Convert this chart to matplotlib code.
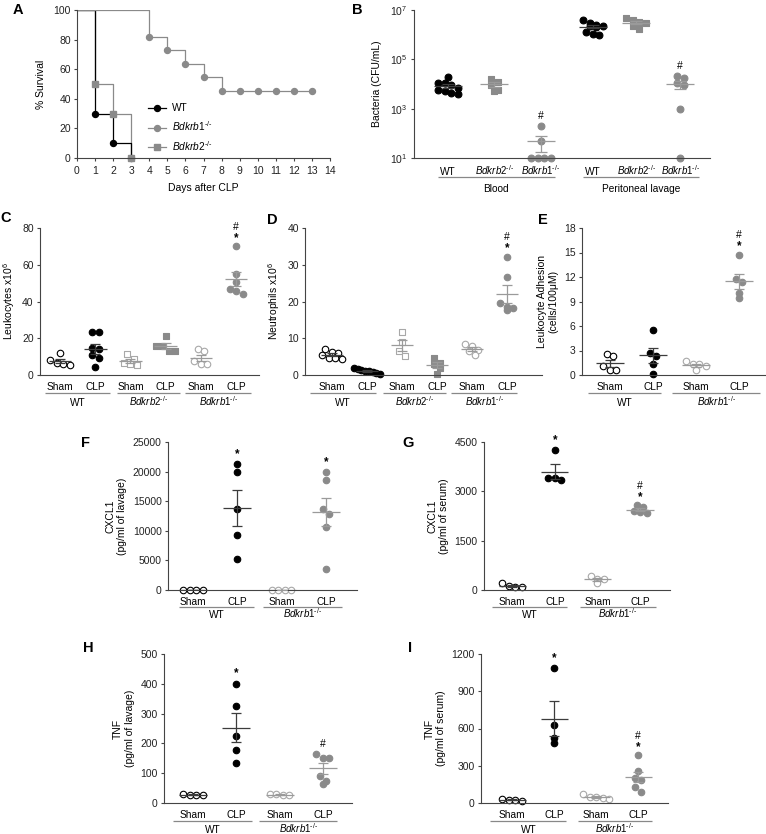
import numpy as np
import matplotlib
matplotlib.use('Agg')
import matplotlib.pyplot as plt
from matplotlib import transforms
from matplotlib.lines import Line2D

plt.rcParams['font.family'] = ['Liberation Sans', 'DejaVu Sans']
plt.rcParams['font.size'] = 7.5
plt.rcParams['mathtext.fontset'] = 'custom'
plt.rcParams['mathtext.rm'] = 'Liberation Sans'
plt.rcParams['mathtext.it'] = 'Liberation Sans:italic'
plt.rcParams['axes.linewidth'] = 0.8
plt.rcParams['axes.edgecolor'] = '#444444'
plt.rcParams['xtick.color'] = '#444444'
plt.rcParams['ytick.color'] = '#444444'
plt.rcParams['xtick.labelcolor'] = '#222222'
plt.rcParams['ytick.labelcolor'] = '#222222'
plt.rcParams['xtick.major.size'] = 2.5
plt.rcParams['ytick.major.size'] = 2.5
plt.rcParams['xtick.major.width'] = 0.8
plt.rcParams['ytick.major.width'] = 0.8
plt.rcParams['ytick.major.pad'] = 2

B1 = r'$\mathit{Bdkrb1}^{\text{-/-}}$'
B2 = r'$\mathit{Bdkrb2}^{\text{-/-}}$'
GENO_FS = 7.0

# ---- A: survival
days_wt = [0, 1, 2, 3]
surv_wt = [100, 30, 10, 0]
days_b2 = [0, 1, 2, 3]
surv_b2 = [100, 50, 30, 0]
days_b1 = [0, 4, 5, 6, 7, 8, 13]
surv_b1 = [100, 81.8, 72.7, 63.6, 54.5, 45.5, 45.5]
censor_b1 = [9, 10, 11, 12, 13]

# ---- B: bacteria (CFU/mL)
blood_wt = [19000, 11200, 11000, 9000, 7000, 5600, 5000, 4500, 4000]
blood_b2 = [16000, 12500, 9300, 5900, 5000]
blood_b1 = [200, 50, 10, 10, 10, 10]
lav_wt = [3.8e6, 2.9e6, 2.5e6, 2.3e6, 2.2e6, 2.0e6, 1.3e6, 1.1e6, 1.0e6]
lav_b2 = [4.8e6, 3.8e6, 3.2e6, 2.9e6, 2.2e6, 1.7e6]
lav_b1 = [22000, 17000, 11000, 9400, 1000, 10]

# ---- C: leukocytes x10^6
c_wt_sham = [12, 8, 6.5, 6, 5.5]
c_wt_clp = [23.5, 23.5, 14.5, 14, 11, 9, 4.5]
c_b2_sham = [11.6, 8.9, 6.5, 6.2, 5.3]
c_b2_clp = [21, 15.8, 15.8, 13.1, 13.1]
c_b1_sham = [14, 13, 7.6, 6.2, 5.8]
c_b1_clp = [70, 55, 50.6, 47, 44.3, 45.7]

# ---- D: neutrophils x10^6
d_wt_sham = [7.2, 6.3, 6.0, 5.5, 4.6, 4.5, 4.4]
d_wt_clp = [1.8, 1.5, 1.3, 1.1, 1.0, 0.8, 0.6, 0.4]
d_b2_sham = [11.6, 9.0, 6.5, 5.2]
d_b2_clp = [4.7, 3.3, 3.1, 1.9, 0.4]
d_b1_sham = [8.4, 7.8, 6.9, 6.6, 5.4]
d_b1_clp = [32.2, 26.6, 19.5, 18.4, 17.7, 18.1]

# ---- E: leukocyte adhesion
e_wt_sham = [2.6, 2.3, 1.06, 0.6, 0.6]
e_wt_clp = [5.5, 2.7, 2.35, 1.4, 0.08]
e_b1_sham = [1.67, 1.4, 1.3, 1.1, 0.57]
e_b1_clp = [14.75, 11.7, 11.4, 10.1, 9.4]

# ---- F: CXCL1 lavage
f_wt_sham = [0, 0, 0, 0]
f_wt_clp = [21300, 19860, 13650, 9310, 5190]
f_b1_sham = [0, 0, 0, 0]
f_b1_clp = [19860, 18620, 13650, 12810, 10720, 3560]

# ---- G: CXCL1 serum
g_wt_sham = [200, 120, 100, 80]
g_wt_clp = [4248, 3405, 3405, 3354]
g_b1_sham = [427, 325, 325, 224]
g_b1_clp = [2580, 2520, 2340, 2360, 2390]

# ---- H: TNF lavage
h_wt_sham = [30, 28, 27, 26]
h_wt_clp = [401, 325, 224, 179, 135]
h_b1_sham = [30, 29, 28, 27]
h_b1_clp = [166, 152, 152, 92, 74, 65]

# ---- I: TNF serum
i_wt_sham = [35, 27, 22, 16]
i_wt_clp = [1087, 626, 526, 480]
i_b1_sham = [70, 49, 43, 49, 35]
i_b1_clp = [385, 259, 183, 202, 129, 92]

STY = {
    'wt_open': dict(marker='o', facecolors='white', edgecolors='black'),
    'wt_fill': dict(marker='o', facecolors='black', edgecolors='black'),
    'b2_open': dict(marker='s', facecolors='white', edgecolors='#a8a8a8'),
    'b2_fill': dict(marker='s', facecolors='#8a8a8a', edgecolors='#8a8a8a'),
    'b1_open': dict(marker='o', facecolors='white', edgecolors='#a8a8a8'),
    'b1_fill': dict(marker='o', facecolors='#8a8a8a', edgecolors='#8a8a8a'),
}
BAR = {'wt': '#3c3c3c', 'b2': '#9a9a9a', 'b1': '#9a9a9a'}

W, H = 766, 834
fig = plt.figure(figsize=(W / 100, H / 100), dpi=100)


def box(x0, y0, x1, y1):
    ax = fig.add_axes([x0 / W, 1 - y1 / H, (x1 - x0) / W, (y1 - y0) / H])
    ax.spines['top'].set_visible(False)
    ax.spines['right'].set_visible(False)
    return ax


def spread(ax, x0, vals, d=6.5, maxw=0.75):
    pts = ax.transData.transform([(x0, v) for v in vals])
    ypx = pts[:, 1]
    upx = ax.transData.transform((x0 + 1, vals[0]))[0] - pts[0, 0]
    order = np.argsort(-ypx)
    rows, cur = [], [order[0]]
    for i in order[1:]:
        if ypx[cur[0]] - ypx[i] < d * 0.85:
            cur.append(i)
        else:
            rows.append(cur)
            cur = [i]
    rows.append(cur)
    xs = np.full(len(vals), float(x0))
    for r in rows:
        n = len(r)
        if n > 1:
            step = min(d / upx, maxw / (n - 1))
            for k, i in enumerate(r):
                xs[i] = x0 + (k - (n - 1) / 2) * step
    return xs


def dots(ax, x0, vals, key, s=22, hw=0.32, cap=3.5):
    vals = np.asarray(vals, float)
    xs = spread(ax, x0, vals)
    ax.scatter(xs, vals, s=s, linewidths=0.8, zorder=2, clip_on=False, **STY[key])
    m = vals.mean()
    sem = vals.std(ddof=1) / np.sqrt(len(vals))
    c = BAR[key[:2]]
    ax.hlines(m, x0 - hw, x0 + hw, color=c, lw=0.9, zorder=3)
    ax.errorbar(x0, m, yerr=sem, fmt='none', ecolor=c, elinewidth=0.9,
                capsize=cap, capthick=0.9, zorder=3)


def below(ax, x, text, base_px):
    tr = transforms.blended_transform_factory(ax.transData, ax.transAxes)
    off = transforms.ScaledTranslation(0, -base_px / 100, fig.dpi_scale_trans)
    fs = GENO_FS if 'Bdkrb' in text else 7.3
    ax.text(x, 0, text, transform=tr + off, ha='center', va='baseline', fontsize=fs)


def cat_labels(ax, positions, labels, base_px):
    ax.set_xticks([])
    for p, lab in zip(positions, labels):
        below(ax, p, lab, base_px)


def groups_below(ax, spans, labels, line_px, text_px):
    tr = transforms.blended_transform_factory(ax.transData, ax.transAxes)
    off_l = transforms.ScaledTranslation(0, -line_px / 100, fig.dpi_scale_trans)
    for (a, b), lab in zip(spans, labels):
        ax.plot([a, b], [0, 0], transform=tr + off_l, color='#888888', lw=0.9,
                clip_on=False, solid_capstyle='butt')
        below(ax, (a + b) / 2, lab, text_px)


def mark(ax, x, y, star=True, hsh=False):
    kw = dict(xy=(x, y), textcoords='offset points', ha='center', annotation_clip=False)
    if star and hsh:
        ax.annotate('*', xytext=(0, 10.4), va='top', fontsize=8.5, fontweight='bold', **kw)
        ax.annotate('#', xytext=(0, 10.4), va='bottom', fontsize=7.5, **kw)
    elif star:
        ax.annotate('*', xytext=(0, 11.5), va='top', fontsize=8.5, fontweight='bold', **kw)
    else:
        ax.annotate('#', xytext=(0, 3.5), va='bottom', fontsize=7.5, **kw)


def cat_axes(ax, xlim, ylim, yticks, ylabel, labels):
    ax.set_xlim(*xlim)
    ax.set_ylim(*ylim)
    ax.set_yticks(yticks)
    cat_labels(ax, range(1, len(labels) + 1), labels, 15)
    ax.set_ylabel(ylabel, labelpad=4)


# ================= A
axA = box(77, 10, 330, 158)
axA.step(days_b2, surv_b2, where='post', color='#8a8a8a', lw=0.9)
axA.step(days_wt, surv_wt, where='post', color='black', lw=0.9)
axA.step(days_b1, surv_b1, where='post', color='#8a8a8a', lw=0.9)
axA.plot(days_wt[1:], surv_wt[1:], 'o', color='black', ms=4.3, clip_on=False)
axA.plot(days_b1[1:6] + censor_b1, surv_b1[1:6] + [surv_b1[-1]] * len(censor_b1),
         'o', color='#8a8a8a', ms=4.3, clip_on=False)
axA.plot(days_b2[1:], surv_b2[1:], 's', color='#8a8a8a', ms=4.3, clip_on=False)
axA.set_xlim(0, 14)
axA.set_ylim(0, 100)
axA.set_xticks(range(0, 15))
axA.set_yticks(range(0, 101, 20))
axA.set_xlabel('Days after CLP', labelpad=5)
axA.set_ylabel('% Survival', labelpad=5)
handles = [Line2D([], [], color='black', marker='o', ms=4.3, lw=0.9),
           Line2D([], [], color='#8a8a8a', marker='o', ms=4.3, lw=0.9),
           Line2D([], [], color='#8a8a8a', marker='s', ms=4.3, lw=0.9)]
axA.legend(handles, ['WT', B1, B2], loc='upper left', bbox_to_anchor=(0.28, 0.37),
           borderaxespad=0, borderpad=0, frameon=False, handlelength=1.8,
           handletextpad=0.6, labelspacing=0.6, fontsize=7.3)

# ================= B
axB = box(414, 10, 710, 158)
axB.set_yscale('log')
axB.set_ylim(10, 1e7)
axB.set_xlim(0.27, 6.64)
posB = [1, 2, 3, 4.12, 5.05, 6]
axB.set_yticks([10, 1e3, 1e5, 1e7], ['10$^1$', '10$^3$', '10$^5$', '10$^7$'])
axB.minorticks_off()
cat_labels(axB, posB, ['WT', B2, B1, 'WT', B2, B1], 17)
axB.set_ylabel('Bacteria (CFU/mL)', labelpad=6)
for p, v, k in zip(posB, [blood_wt, blood_b2, blood_b1, lav_wt, lav_b2, lav_b1],
                   ['wt_fill', 'b2_fill', 'b1_fill', 'wt_fill', 'b2_fill', 'b1_fill']):
    dots(axB, p, v, k, s=24, hw=0.3, cap=4)
mark(axB, posB[2], max(blood_b1), star=False, hsh=True)
mark(axB, posB[5], max(lav_b1), star=False, hsh=True)
groups_below(axB, [(0.78, 3.3), (3.9, 6.4)], ['Blood', 'Peritoneal lavage'], 19, 34)

# ================= C
axC = box(40, 228, 259, 375)
cat_axes(axC, (0.43, 6.65), (0, 80), range(0, 81, 20), 'Leukocytes x10$^6$',
         ['Sham', 'CLP'] * 3)
for p, v, k in zip(range(1, 7), [c_wt_sham, c_wt_clp, c_b2_sham, c_b2_clp, c_b1_sham, c_b1_clp],
                   ['wt_open', 'wt_fill', 'b2_open', 'b2_fill', 'b1_open', 'b1_fill']):
    dots(axC, p, v, k)
mark(axC, 6, max(c_b1_clp), hsh=True)
groups_below(axC, [(0.57, 2.42), (2.62, 4.41), (4.55, 6.43)], ['WT', B2, B1], 18, 31)

# ================= D
axD = box(305, 228, 542, 375)
cat_axes(axD, (0.23, 7.0), (0, 40), range(0, 41, 10), 'Neutrophils x10$^6$',
         ['Sham', 'CLP'] * 3)
for p, v, k in zip(range(1, 7), [d_wt_sham, d_wt_clp, d_b2_sham, d_b2_clp, d_b1_sham, d_b1_clp],
                   ['wt_open', 'wt_fill', 'b2_open', 'b2_fill', 'b1_open', 'b1_fill']):
    dots(axD, p, v, k)
mark(axD, 6, max(d_b1_clp), hsh=True)
groups_below(axD, [(0.37, 2.26), (2.46, 4.26), (4.4, 6.29)], ['WT', B2, B1], 18, 31)

# ================= E
axE = box(582, 228, 765, 375)
cat_axes(axE, (0.35, 4.6), (0, 18), range(0, 19, 3),
         'Leukocyte Adhesion\n(cells/100\u03bcM)', ['Sham', 'CLP'] * 2)
for p, v, k in zip(range(1, 5), [e_wt_sham, e_wt_clp, e_b1_sham, e_b1_clp],
                   ['wt_open', 'wt_fill', 'b1_open', 'b1_fill']):
    dots(axE, p, v, k)
mark(axE, 4, max(e_b1_clp), hsh=True)
groups_below(axE, [(0.49, 2.18), (2.45, 4.49)], ['WT', B1], 18, 31)

# ================= F
axF = box(168, 442, 357, 590)
cat_axes(axF, (0.44, 4.7), (0, 25000), range(0, 25001, 5000),
         'CXCL1\n(pg/ml of lavage)', ['Sham', 'CLP'] * 2)
for p, v, k in zip(range(1, 5), [f_wt_sham, f_wt_clp, f_b1_sham, f_b1_clp],
                   ['wt_open', 'wt_fill', 'b1_open', 'b1_fill']):
    dots(axF, p, v, k)
mark(axF, 2, max(f_wt_clp))
mark(axF, 4, max(f_b1_clp))
groups_below(axF, [(0.68, 2.38), (2.58, 4.36)], ['WT', B1], 17, 28)

# ================= G
axG = box(484, 442, 670, 590)
cat_axes(axG, (0.34, 4.7), (0, 4500), range(0, 4501, 1500),
         'CXCL1\n(pg/ml of serum)', ['Sham', 'CLP'] * 2)
for p, v, k in zip(range(1, 5), [g_wt_sham, g_wt_clp, g_b1_sham, g_b1_clp],
                   ['wt_open', 'wt_fill', 'b1_open', 'b1_fill']):
    dots(axG, p, v, k)
mark(axG, 2, max(g_wt_clp))
mark(axG, 4, max(g_b1_clp), hsh=True)
groups_below(axG, [(0.53, 2.29), (2.59, 4.37)], ['WT', B1], 17, 28)

# ================= H
axH = box(164, 654, 352, 803)
cat_axes(axH, (0.33, 4.67), (0, 500), range(0, 501, 100),
         'TNF\n(pg/ml of lavage)', ['Sham', 'CLP'] * 2)
for p, v, k in zip(range(1, 5), [h_wt_sham, h_wt_clp, h_b1_sham, h_b1_clp],
                   ['wt_open', 'wt_fill', 'b1_open', 'b1_fill']):
    dots(axH, p, v, k)
mark(axH, 2, max(h_wt_clp))
mark(axH, 4, max(h_b1_clp), star=False, hsh=True)
groups_below(axH, [(0.53, 2.37), (2.53, 4.33)], ['WT', B1], 18, 30)

# ================= I
axI = box(481, 654, 668, 803)
cat_axes(axI, (0.26, 4.71), (0, 1200), range(0, 1201, 300),
         'TNF\n(pg/ml of serum)', ['Sham', 'CLP'] * 2)
for p, v, k in zip(range(1, 5), [i_wt_sham, i_wt_clp, i_b1_sham, i_b1_clp],
                   ['wt_open', 'wt_fill', 'b1_open', 'b1_fill']):
    dots(axI, p, v, k)
mark(axI, 2, max(i_wt_clp))
mark(axI, 4, max(i_b1_clp), hsh=True)
groups_below(axI, [(0.48, 2.29), (2.57, 4.33)], ['WT', B1], 18, 30)

# panel letters
for lab, x, y in [('A', 18, 10), ('B', 357, 10), ('C', 6, 218), ('D', 272, 220),
                  ('E', 543, 220), ('F', 85, 443), ('G', 408, 443), ('H', 88, 648),
                  ('I', 410, 648)]:
    fig.text(x / W, 1 - y / H, lab, fontsize=10.5, fontweight='bold', ha='center', va='center')

fig.savefig('out.png', dpi=100)
